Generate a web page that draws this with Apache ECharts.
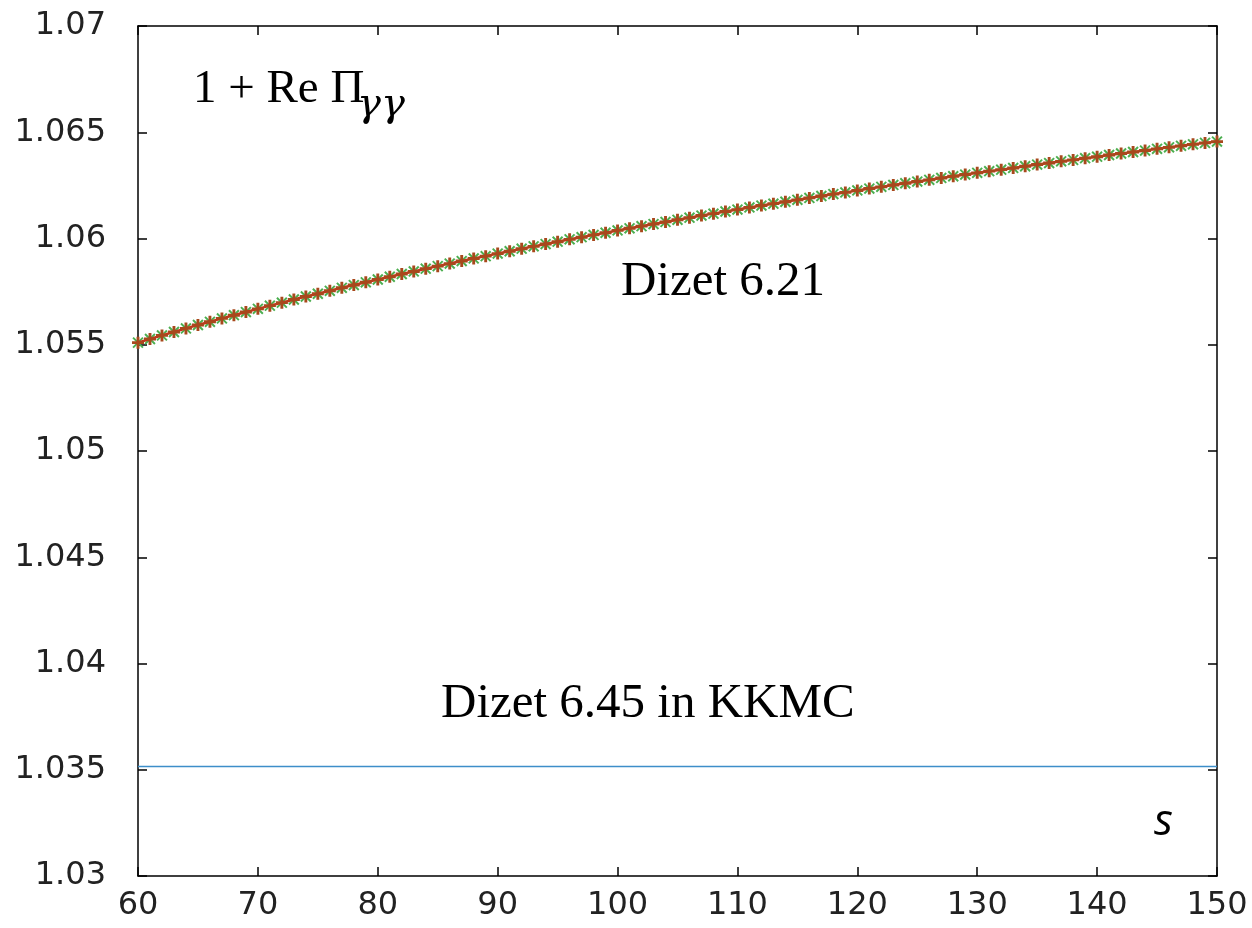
<!DOCTYPE html>
<html>
<head>
<meta charset="utf-8">
<script src="https://cdn.jsdelivr.net/npm/echarts@6/dist/echarts.min.js"></script>
<style>
html,body{margin:0;padding:0;background:#fff;}
#chart{width:1252px;height:928px;}
</style>
</head>
<body>
<div id="chart"></div>
<script>
// s values (x)
var sValues = [60,61,62,63,64,65,66,67,68,69,70,71,72,73,74,75,76,77,78,79,80,81,82,83,84,85,86,87,88,89,90,
  91,92,93,94,95,96,97,98,99,100,101,102,103,104,105,106,107,108,109,110,111,112,113,114,115,116,117,118,119,120,
  121,122,123,124,125,126,127,128,129,130,131,132,133,134,135,136,137,138,139,140,141,142,143,144,145,146,147,148,149,150];
// 1 + Re Pi_gg, Dizet 6.21
var dizet621 = [1.05510,1.05527,1.05544,1.05560,1.05577,1.05593,1.05608,1.05624,1.05639,1.05654,1.05669,
  1.05684,1.05698,1.05713,1.05727,1.05740,1.05754,1.05768,1.05781,1.05794,1.05807,
  1.05820,1.05833,1.05845,1.05858,1.05870,1.05882,1.05894,1.05906,1.05917,1.05929,
  1.05940,1.05952,1.05963,1.05974,1.05985,1.05996,1.06006,1.06017,1.06027,1.06038,
  1.06048,1.06058,1.06068,1.06078,1.06088,1.06098,1.06108,1.06117,1.06127,1.06136,
  1.06146,1.06155,1.06164,1.06173,1.06182,1.06191,1.06200,1.06209,1.06217,1.06226,
  1.06235,1.06243,1.06252,1.06260,1.06268,1.06276,1.06285,1.06293,1.06301,1.06309,
  1.06317,1.06324,1.06332,1.06340,1.06348,1.06355,1.06363,1.06370,1.06378,1.06385,
  1.06393,1.06400,1.06407,1.06414,1.06422,1.06429,1.06436,1.06443,1.06450,1.06456];
// Dizet 6.45 in KKMC (constant)
var kkmcS = [60, 150];
var kkmcValues = [1.03515, 1.03515];
// axis ticks
var xTicks = [60,70,80,90,100,110,120,130,140,150];
var yTicks = [1.03,1.035,1.04,1.045,1.05,1.055,1.06,1.065,1.07];

function pairs(xs, ys){ return xs.map(function(x,i){ return [x, ys[i]]; }); }

var plusPath = 'path://M3.8,0H6.2V10H3.8ZM0,3.8H10V6.2H0Z';
var thinPlus = 'path://M4.3,0H5.7V10H4.3ZM0,4.3H10V5.7H0Z';

var axisLineStyle = {color:'#000', width:1.5};
var labelFont = {fontFamily:'DejaVu Sans', fontSize:32, color:'#222'};
function xAx(pos, showLabel){
  return {
    type:'value', position:pos, min:xTicks[0], max:xTicks[xTicks.length-1], interval:10,
    axisLine:{show:true, onZero:false, lineStyle:axisLineStyle},
    axisTick:{show:true, inside:true, length:9, lineStyle:{color:'#000', width:1.5}},
    axisLabel:Object.assign({show:showLabel, margin:14}, labelFont),
    splitLine:{show:false}
  };
}
function yAx(pos, showLabel){
  return {
    type:'value', position:pos, min:yTicks[0], max:yTicks[yTicks.length-1], interval:0.005,
    axisLine:{show:true, onZero:false, lineStyle:axisLineStyle},
    axisTick:{show:true, inside:true, length:9, lineStyle:{color:'#000', width:1.5}},
    axisLabel:Object.assign({show:showLabel, margin:32,
      formatter:function(v){ return String(parseFloat(v.toFixed(3))); }}, labelFont),
    splitLine:{show:false}
  };
}

var chart = echarts.init(document.getElementById('chart'), null, {renderer:'canvas'});
chart.setOption({
  animation:false,
  backgroundColor:'#fff',
  grid:{left:138, right:35, top:26, bottom:52, containLabel:false},
  xAxis:[xAx('bottom', true), xAx('top', false)],
  yAxis:[yAx('left', true), yAx('right', false)],
  series:[
    {
      type:'line', xAxisIndex:0, yAxisIndex:0,
      data: pairs(kkmcS, kkmcValues),
      showSymbol:false, lineStyle:{color:'#3d8ec9', width:1.5}, z:2
    },
    {
      type:'line', xAxisIndex:0, yAxisIndex:0,
      data: pairs(sValues, dizet621),
      symbol: thinPlus, symbolSize:14, symbolRotate:45, showSymbol:true,
      itemStyle:{color:'#4caf50'},
      lineStyle:{width:0, opacity:0}, z:3
    },
    {
      type:'line', xAxisIndex:0, yAxisIndex:0,
      data: pairs(sValues, dizet621),
      symbol: plusPath, symbolSize:12, showSymbol:true,
      itemStyle:{color:'#a8481c'},
      lineStyle:{color:'#c8321a', width:2.5}, z:4
    }
  ],
  graphic:[
    {type:'text', left:193, top:66, z:10,
      style:{text:'1 + Re Π', fontFamily:'Liberation Serif', fontSize:47, fill:'#000'}},
    {type:'text', left:357, top:86, z:10,
      style:{text:'γγ', fontFamily:'DejaVu Serif', fontStyle:'italic', fontSize:40, fill:'#000'}},
    {type:'text', left:621, top:258, z:10,
      style:{text:'Dizet 6.21', fontFamily:'Liberation Serif', fontSize:49, fill:'#000'}},
    {type:'text', left:441, top:680, z:10,
      style:{text:'Dizet 6.45 in KKMC', fontFamily:'Liberation Serif', fontSize:49, fill:'#000'}},
    {type:'text', left:1154, top:800, z:10,
      style:{text:'s', fontFamily:'Open Sans', fontStyle:'italic', fontSize:44, fill:'#000'}}
  ]
});
</script>
</body>
</html>
